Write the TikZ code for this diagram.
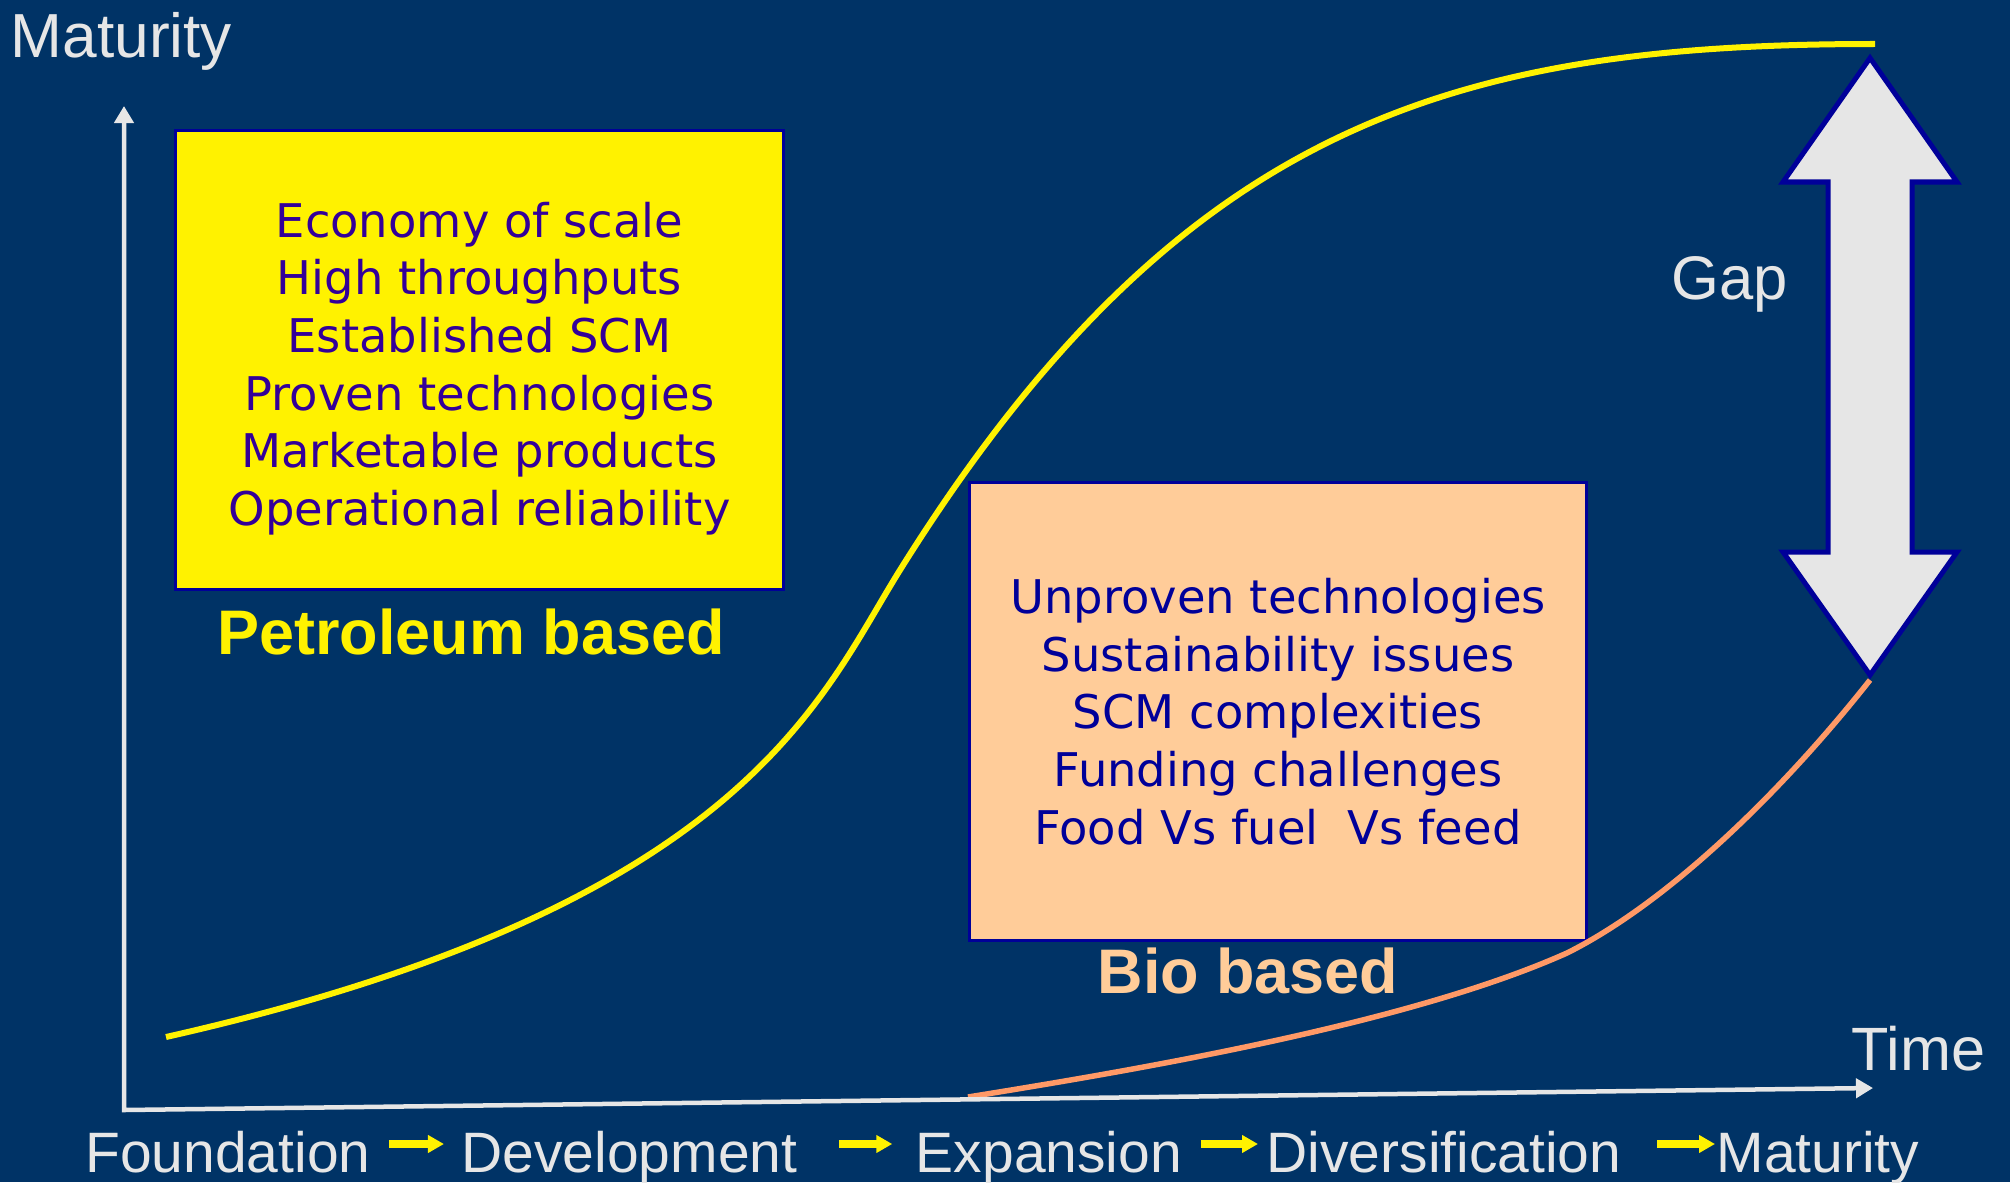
\documentclass[tikz,border=0pt]{standalone}
\usepackage{fontspec}
\setmainfont{Liberation Sans}
\newfontfamily\boxfont{DejaVu Sans}
\usetikzlibrary{arrows.meta}
\definecolor{bgblue}{RGB}{0,51,102}
\definecolor{axisgray}{RGB}{230,230,230}
\definecolor{peach}{RGB}{255,204,153}
\definecolor{biocurve}{RGB}{255,153,102}
\definecolor{boxedge}{RGB}{0,0,153}
\definecolor{petroink}{RGB}{51,0,153}
\definecolor{bioink}{RGB}{0,0,153}
\tikzset{
  axisline/.style={axisgray,line width=0.045cm,
    arrows={Triangle[length=0.17cm,width=0.19cm]-Triangle[length=0.17cm,width=0.19cm]}},
  stage/.style={text=axisgray,inner sep=0pt,anchor=base,
    font=\fontsize{16.2}{19}\selectfont,text height=4.5mm,text depth=1.2mm},
  stagearrow/.style={yellow,line width=0.08cm,-{Triangle[length=0.16cm,width=0.17cm]}},
  listbox/.style={draw=boxedge,line width=0.03cm,align=center,inner sep=0pt,
    font=\boxfont\fontsize{13.2}{16.4}\selectfont},
  boxlabel/.style={anchor=base,inner sep=0pt,font=\bfseries\fontsize{17.9}{21}\selectfont},
  axislabel/.style={anchor=base west,inner sep=0pt,text=axisgray}
}
\begin{document}
\begin{tikzpicture}[x=0.01cm,y=-0.01cm]
\fill[bgblue] (0,0) rectangle (2010,1182);
\useasboundingbox (0,0) rectangle (2010,1182);

\node[listbox,fill=yellow,text=petroink,minimum width=6.07cm,minimum height=4.58cm]
    (petrobox) at (479.5,360)
    {\rule{0pt}{0.52cm}Economy of scale\\High throughputs\\Established SCM\\Proven technologies\\Marketable products\\Operational reliability};
\node[listbox,fill=peach,text=bioink,minimum width=6.16cm,minimum height=4.57cm]
    (biobox) at (1278,711.5)
    {Unproven technologies\\Sustainability issues\\SCM complexities\\Funding challenges\\Food Vs fuel\ \ Vs feed};
\node[boxlabel,text=yellow] (petrolbl) at (471,654) {Petroleum based};
\node[boxlabel,text=peach]  (biolbl)   at (1248,993) {Bio based};

\draw[yellow,line width=0.06cm]
    (166,1037) .. controls (746,906) and (820,698) .. (900,570)
               .. controls (1180,122) and (1455,44) .. (1875,44);
\draw[biocurve,line width=0.055cm]
    (968,1097) .. controls (1168,1065) and (1417,1020) .. (1567,953)
               .. controls (1667,903) and (1780,794) .. (1870,680);

\draw[boxedge,fill=axisgray,line width=0.05cm]
    (1870,58) -- (1957,182) -- (1912,182) -- (1912,552) -- (1957,552) -- (1870,675)
    -- (1783,552) -- (1828,552) -- (1828,182) -- (1783,182) -- cycle;
\node[anchor=base,inner sep=0pt,text=axisgray,font=\fontsize{17.5}{21}\selectfont]
    (gaplbl) at (1730,299) {Gap};

\coordinate (ytop)   at (124,106);
\coordinate (origin) at (124,1110);
\coordinate (xend)   at (1873,1088);
\draw[axisline] (ytop) -- (origin) -- (xend);
\node[axislabel,font=\fontsize{17.7}{21}\selectfont] (ylbl) at (10,58)    {Maturity};
\node[axislabel,font=\fontsize{17.4}{21}\selectfont] (xlbl) at (1851,1070) {Time};

\node[stage] (found) at (228,1172)    {Foundation};
\node[stage] (devel) at (629.5,1172)  {Development};
\node[stage] (expan) at (1049,1172)   {Expansion};
\node[stage] (diver) at (1444,1172)   {Diversification};
\node[stage] (matur) at (1818,1172)   {Maturity};
\draw[stagearrow] ([xshift=1.8mm,yshift=1.15mm]found.east) -- ([xshift=-1.7mm,yshift=1.15mm]devel.west);
\draw[stagearrow] ([xshift=4.1mm,yshift=1.15mm]devel.east) -- ([xshift=-2.3mm,yshift=1.15mm]expan.west);
\draw[stagearrow] ([xshift=1.8mm,yshift=1.15mm]expan.east) -- ([xshift=-0.8mm,yshift=1.15mm]diver.west);
\draw[stagearrow] ([xshift=3.5mm,yshift=1.15mm]diver.east) -- ([xshift=-0.1mm,yshift=1.15mm]matur.west);
\end{tikzpicture}
\end{document}
